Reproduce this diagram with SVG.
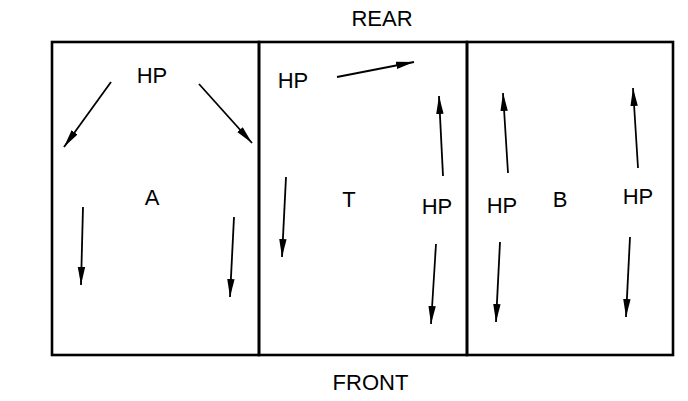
<svg xmlns="http://www.w3.org/2000/svg" width="688" height="401" viewBox="0 0 688 401">
<style>
.t{font-family:"Liberation Sans",Arial,sans-serif;font-size:22px;fill:#000;text-anchor:middle}
.box{fill:none;stroke:#000;stroke-width:2.6}
.ar{stroke:#000;stroke-width:1.8;fill:none;marker-end:url(#ah)}
</style>
<defs>
<marker id="ah" markerUnits="userSpaceOnUse" markerWidth="18" markerHeight="9" viewBox="0 -4.5 18 9" refX="18" refY="0" orient="auto">
<path d="M0,-3.7 L18,0 L0,3.7 z" fill="#000"/>
</marker>
</defs>
<rect width="688" height="401" fill="#fff"/>
<text class="t" x="382" y="26">REAR</text>
<text class="t" x="370.5" y="390">FRONT</text>
<g id="node-A">
<rect class="box" x="52" y="42" width="207" height="313"/>
<text class="t" x="152" y="83">HP</text>
<text class="t" x="152" y="205">A</text>
</g>
<g id="node-T">
<rect class="box" x="259" y="42" width="208" height="313"/>
<text class="t" x="293" y="88">HP</text>
<text class="t" x="349" y="207">T</text>
<text class="t" x="437" y="214">HP</text>
</g>
<g id="node-B">
<rect class="box" x="467" y="42" width="206" height="313"/>
<text class="t" x="502" y="213">HP</text>
<text class="t" x="560" y="207">B</text>
<text class="t" x="638" y="204">HP</text>
</g>
<g id="connectors">
<line class="ar" x1="111" y1="82" x2="64" y2="147"/>
<line class="ar" x1="199" y1="84" x2="252" y2="143"/>
<line class="ar" x1="83" y1="207" x2="81" y2="285"/>
<line class="ar" x1="234" y1="217" x2="230" y2="297"/>
<line class="ar" x1="337" y1="77" x2="414" y2="62"/>
<line class="ar" x1="443" y1="176" x2="439" y2="96"/>
<line class="ar" x1="286" y1="177" x2="282" y2="257"/>
<line class="ar" x1="436" y1="244" x2="431" y2="324"/>
<line class="ar" x1="508" y1="173" x2="503" y2="93"/>
<line class="ar" x1="638" y1="168" x2="633" y2="88"/>
<line class="ar" x1="500" y1="242" x2="496" y2="322"/>
<line class="ar" x1="630" y1="237" x2="626" y2="317"/>
</g>
</svg>
